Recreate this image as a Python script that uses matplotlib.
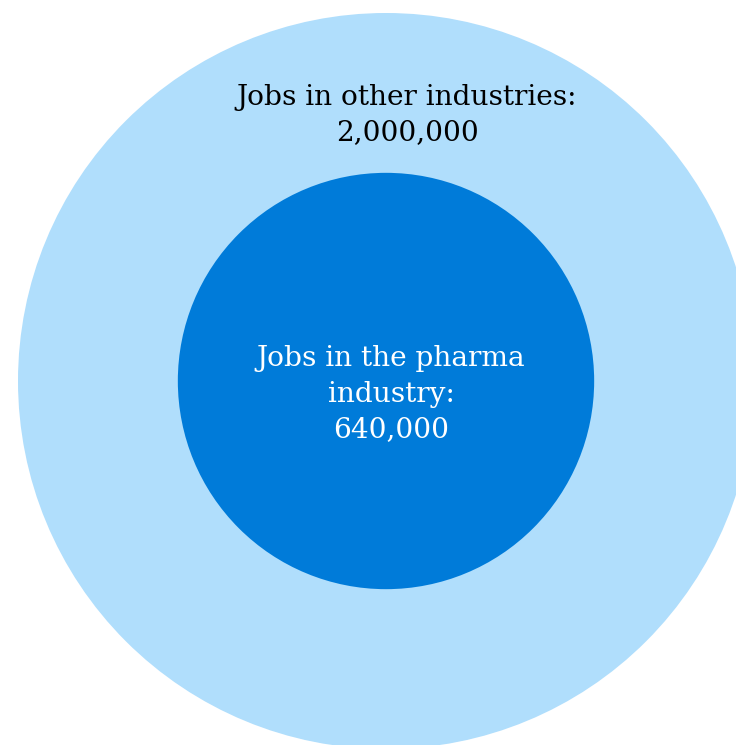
import numpy as np
import matplotlib
matplotlib.use("Agg")
import matplotlib.pyplot as plt
from matplotlib.patches import Circle

# Data
labels = ["Jobs in other industries", "Jobs in the pharma\nindustry"]
jobs = [2000000, 640000]
colors = ["#B0DEFC", "#007BD9"]
text_colors = ["black", "white"]

fig = plt.figure(figsize=(7.36, 7.45), dpi=100)
ax = fig.add_axes([0, 0, 1, 1])
ax.set_xlim(0, 736)
ax.set_ylim(745, 0)
ax.set_aspect("equal")
ax.axis("off")

# circle area proportional to value
cx, cy = 386, 381
k = 368 / np.sqrt(max(jobs))
for v, c in zip(jobs, colors):
    ax.add_patch(Circle((cx, cy), k * np.sqrt(v), color=c, lw=0))

font = dict(family="DejaVu Serif", fontsize=20.2, ha="center", va="center",
            linespacing=1.42)
ax.text(407, 115, f"{labels[0]}:\n{jobs[0]:,}", color=text_colors[0], **font)
ax.text(391, 394, f"{labels[1]}:\n{jobs[1]:,}", color=text_colors[1], **font)

fig.savefig("out.png", dpi=100)
